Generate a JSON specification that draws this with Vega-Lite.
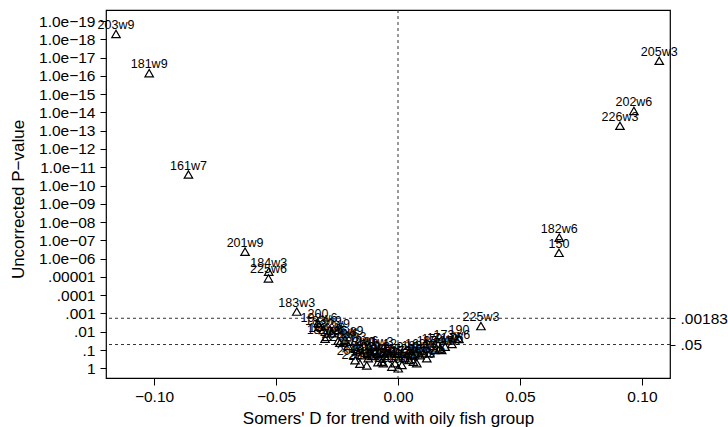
{
  "$schema": "https://vega.github.io/schema/vega-lite/v6.json",
  "width": 564,
  "height": 368,
  "autosize": {"type": "none"},
  "padding": {"left": 106, "top": 10, "right": 58, "bottom": 49},
  "background": "white",
  "config": {
    "view": {"stroke": "#000", "strokeWidth": 1.2},
    "font": "Liberation Sans",
    "axis": {
      "grid": false, "domain": false, "tickColor": "#000", "tickWidth": 1,
      "labelColor": "#000", "titleColor": "#000", "labelFontSize": 15.5,
      "titleFontSize": 17, "titleFontWeight": "normal",
      "labelFont": "Liberation Sans", "titleFont": "Liberation Sans",
      "labelOverlap": false, "labelFlush": false
    }
  },
  "datasets": {
    "pts": [
      {"label": "203w9", "somersd": -0.1156, "p": 5.1e-19},
      {"label": "181w9", "somersd": -0.1020, "p": 7.2e-17},
      {"label": "161w7", "somersd": -0.0859, "p": 2.5e-11},
      {"label": "201w9", "somersd": -0.0627, "p": 4.2e-7},
      {"label": "184w3", "somersd": -0.0530, "p": 5.2e-6},
      {"label": "225w6", "somersd": -0.0531, "p": 1.2e-5},
      {"label": "183w3", "somersd": -0.0415, "p": 7.9e-4},
      {"label": "200", "somersd": -0.0328, "p": 3.3e-3},
      {"label": "205w3", "somersd": 0.1071, "p": 1.5e-17},
      {"label": "202w6", "somersd": 0.0967, "p": 8.3e-15},
      {"label": "226w3", "somersd": 0.0910, "p": 5.4e-14},
      {"label": "182w6", "somersd": 0.0661, "p": 7.2e-8},
      {"label": "150", "somersd": 0.0660, "p": 4.8e-7},
      {"label": "225w3", "somersd": 0.0340, "p": 4.9e-3},
      {"label": "190", "somersd": 0.0250, "p": 0.025},
      {"label": "192w6", "somersd": -0.0324, "p": 5.3e-3},
      {"label": "183w9", "somersd": -0.0306, "p": 8.0e-3},
      {"label": "184w8", "somersd": -0.0292, "p": 0.019},
      {"label": "182w9", "somersd": -0.0272, "p": 0.012},
      {"label": "181w6", "somersd": -0.0299, "p": 0.024},
      {"label": "204w8", "somersd": -0.0245, "p": 0.031},
      {"label": "203w6", "somersd": -0.0238, "p": 0.040},
      {"label": "201w6", "somersd": -0.0176, "p": 0.36},
      {"label": "223w9", "somersd": -0.0169, "p": 0.12},
      {"label": "222w6", "somersd": -0.0156, "p": 0.56},
      {"label": "192w9", "somersd": -0.0149, "p": 0.19},
      {"label": "204w3", "somersd": -0.0128, "p": 0.69},
      {"label": "191w9", "somersd": -0.0122, "p": 0.28},
      {"label": "181w3", "somersd": -0.0094, "p": 0.12},
      {"label": "202w9", "somersd": -0.0067, "p": 0.44},
      {"label": "224w6", "somersd": -0.0060, "p": 0.53},
      {"label": "12", "somersd": -0.0033, "p": 0.15},
      {"label": "171w9", "somersd": -0.0012, "p": 0.53},
      {"label": "205w6", "somersd": 0.0001, "p": 1.0},
      {"label": "172w6", "somersd": 0.0029, "p": 0.28},
      {"label": "184w6", "somersd": 0.0063, "p": 0.44},
      {"label": "161w9", "somersd": 0.0077, "p": 0.53},
      {"label": "183w6", "somersd": 0.0090, "p": 0.19},
      {"label": "226w6", "somersd": 0.0118, "p": 0.28},
      {"label": "13", "somersd": 0.0131, "p": 0.15},
      {"label": "182w3", "somersd": 0.0152, "p": 0.10},
      {"label": "174w6", "somersd": 0.0179, "p": 0.10},
      {"label": "171w6", "somersd": 0.0193, "p": 0.066},
      {"label": "211w3", "somersd": -0.0025, "p": 0.81},
      {"label": "221w9", "somersd": 0.0016, "p": 0.66},
      {"label": "173w9", "somersd": 0.0045, "p": 0.35},
      {"label": "162w6", "somersd": 0.0104, "p": 0.15},
      {"label": "172w9", "somersd": 0.0172, "p": 0.081},
      {"label": "193w6", "somersd": -0.0107, "p": 0.21},
      {"label": "202w3", "somersd": -0.0205, "p": 0.060},
      {"label": "185w9", "somersd": -0.0217, "p": 0.028},
      {"label": "194w9", "somersd": -0.0053, "p": 0.21},
      {"label": "212w6", "somersd": -0.0156, "p": 0.10},
      {"label": "163w3", "somersd": -0.0082, "p": 0.46},
      {"label": "14", "somersd": 0.0057, "p": 0.19},
      {"label": "173w6", "somersd": 0.0221, "p": 0.047}
    ],
    "thr": [{"p": 0.00183}, {"p": 0.05}],
    "zero": [{"d": 0}]
  },
  "layer": [
    {
      "data": {"name": "zero"},
      "mark": {"type": "rule", "strokeDash": [3, 3], "color": "#333", "strokeWidth": 1},
      "encoding": {
        "x": {"field": "d", "type": "quantitative",
              "scale": {"domain": [-0.1197, 0.1115], "nice": false, "zero": false},
              "axis": {"title": "Somers' D for trend with oily fish group", "values": [-0.1, -0.05, 0, 0.05, 0.1], "format": ".2f", "tickSize": 7, "labelPadding": 4, "titleX": 282, "titleY": 45, "titleBaseline": "alphabetic", "titleAnchor": "middle"}}
      }
    },
    {
      "data": {"name": "thr"},
      "mark": {"type": "rule", "strokeDash": [3, 3], "color": "#333", "strokeWidth": 1},
      "encoding": {
        "y": {"field": "p", "type": "quantitative",
              "scale": {"type": "log", "domain": [2.5e-20, 3.39], "reverse": true, "nice": false},
              "axis": {"orient": "right", "title": null, "values": [0.00183, 0.05], "labelExpr": "replace(format(datum.value,'~g'),'0.','.')", "tickSize": 5, "labelPadding": 5}}
      }
    },
    {
      "data": {"name": "pts"},
      "mark": {"type": "point", "shape": "triangle-up", "size": 72, "filled": false, "stroke": "#000", "strokeWidth": 1.2, "opacity": 1},
      "encoding": {
        "x": {"field": "somersd", "type": "quantitative",
              "scale": {"domain": [-0.1197, 0.1115], "nice": false, "zero": false},
              "axis": {"title": "Somers' D for trend with oily fish group", "values": [-0.1, -0.05, 0, 0.05, 0.1], "format": ".2f", "tickSize": 7, "labelPadding": 4, "titleX": 282, "titleY": 45, "titleBaseline": "alphabetic", "titleAnchor": "middle"}},
        "y": {"field": "p", "type": "quantitative",
              "scale": {"type": "log", "domain": [2.5e-20, 3.39], "reverse": true, "nice": false},
              "axis": {"orient": "left", "title": "Uncorrected P−value", "values": [1, 0.1, 0.01, 0.001, 0.0001, 0.00001, 1e-6, 1e-7, 1e-8, 1e-9, 1e-10, 1e-11, 1e-12, 1e-13, 1e-14, 1e-15, 1e-16, 1e-17, 1e-18, 1e-19],
                       "labelExpr": "datum.value >= 1e-5 ? replace(format(datum.value,'~g'),'0.','.') : '1.0e−' + (round(-log(datum.value)/LN10) < 10 ? '0' : '') + round(-log(datum.value)/LN10)",
                       "tickSize": 6, "labelPadding": 5, "titleX": -82.5, "titleY": 189, "titleBaseline": "alphabetic", "titleAnchor": "middle", "titleAngle": 270}}
      }
    },
    {
      "data": {"name": "pts"},
      "mark": {"type": "text", "baseline": "alphabetic", "align": "center", "dy": -5, "fontSize": 12.5, "font": "Liberation Sans", "color": "#000"},
      "encoding": {
        "x": {"field": "somersd", "type": "quantitative",
              "scale": {"domain": [-0.1197, 0.1115], "nice": false, "zero": false},
              "axis": {"title": "Somers' D for trend with oily fish group", "values": [-0.1, -0.05, 0, 0.05, 0.1], "format": ".2f", "tickSize": 7, "labelPadding": 4, "titleX": 282, "titleY": 45, "titleBaseline": "alphabetic", "titleAnchor": "middle"}},
        "y": {"field": "p", "type": "quantitative",
              "scale": {"type": "log", "domain": [2.5e-20, 3.39], "reverse": true, "nice": false},
              "axis": null},
        "text": {"field": "label"}
      }
    }
  ],
  "resolve": {"scale": {"y": "independent"}}
}
